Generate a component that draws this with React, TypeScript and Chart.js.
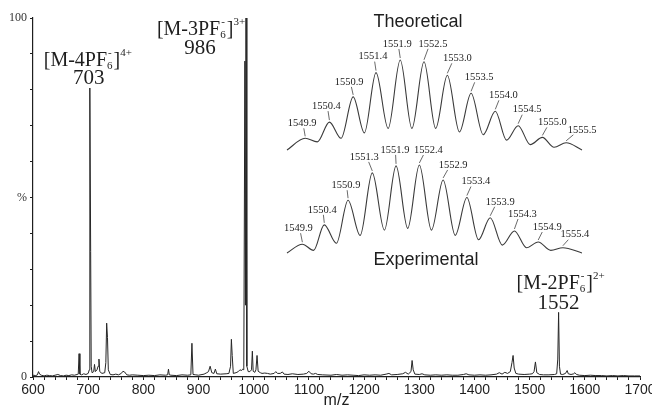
import React, { useEffect, useRef } from "react";
import { Chart, registerables } from "chart.js";
Chart.register(...registerables);

// ---------- Main ESI-MS spectrum ----------
const specMz = [
  600, 605, 608, 610, 612, 615, 620, 625, 630, 635, 640, 645, 650, 655, 660, 665, 670, 675, 680, 682,
  683.5, 685, 688, 692, 696, 700, 702, 703, 704.5, 705.5, 707, 710, 711.5, 713, 716, 718, 719.5, 721,
  725, 730, 732, 733.5, 735, 736.5, 740, 745, 750, 755, 760, 763, 766, 770, 775, 780, 790, 800, 810,
  820, 830, 840, 844, 845.5, 847, 850, 860, 870, 880, 886, 888, 890, 895, 900, 910, 915, 918, 921, 924,
  928, 930.5, 933, 940, 950, 955, 958, 959.5, 961, 963, 968, 972, 975, 978, 980, 982, 984, 985, 986,
  987.5, 990, 993, 996, 997.5, 999, 1002, 1004, 1006, 1008, 1012, 1015, 1020, 1025, 1030, 1037, 1040,
  1043, 1048, 1052, 1055, 1062, 1070, 1080, 1090, 1096, 1100, 1104, 1108, 1112, 1116, 1125, 1140, 1150,
  1160, 1170, 1180, 1190, 1200, 1210, 1220, 1230, 1240, 1245, 1250, 1260, 1270, 1275, 1280, 1285, 1287,
  1289, 1292, 1300, 1305, 1310, 1320, 1330, 1340, 1350, 1360, 1370, 1380, 1385, 1390, 1400, 1410, 1420,
  1430, 1440, 1445, 1450, 1455, 1460, 1465, 1468, 1470, 1472, 1475, 1480, 1490, 1500, 1505, 1508, 1510.5,
  1513, 1518, 1525, 1535, 1545, 1549, 1551, 1552.5, 1554, 1556, 1560, 1565, 1568, 1570, 1575, 1580, 1582,
  1585, 1590, 1600, 1610, 1620, 1630, 1640, 1650, 1660, 1670, 1680, 1690, 1700,
];
const specInt = [
  0.5, 0.4, 0.6, 1.5, 0.8, 0.5, 0.3, 0.5, 0.4, 0.3, 0.5, 0.7, 0.4, 0.3, 0.5, 0.4, 0.6, 0.5, 0.7, 0.8,
  6.5, 0.8, 0.6, 0.9, 0.7, 1.0, 2.0, 80.5, 35, 3, 1.2, 1.5, 3.5, 1.5, 2.0, 3.0, 5.0, 1.5,
  1.0, 1.2, 4.0, 15, 11, 2.0, 0.7, 0.6, 0.8, 0.6, 1.0, 1.6, 1.4, 0.6, 0.5, 0.6, 0.5, 0.4, 0.5,
  0.4, 0.6, 0.5, 0.6, 2.2, 0.6, 0.5, 0.4, 0.6, 0.5, 0.6, 9.4, 0.7, 0.6, 0.5, 0.8, 1.2, 1.5, 3.0, 1.2,
  1.0, 2.2, 0.9, 0.8, 0.9, 1.0, 3.0, 10.5, 6.0, 1.0, 1.2, 1.5, 2.0, 1.8, 2.2, 2.0, 88, 20, 100,
  3.0, 1.5, 1.5, 2.0, 7.2, 1.6, 1.3, 2.0, 6.0, 1.6, 1.2, 1.0, 1.1, 1.0, 0.8, 1.0, 1.5,
  1.0, 1.0, 1.4, 0.8, 0.7, 0.9, 0.7, 0.8, 1.0, 1.6, 0.9, 0.8, 1.0, 0.7, 0.6, 0.5, 0.7,
  0.5, 0.6, 0.5, 0.4, 0.6, 0.5, 0.6, 0.5, 0.8, 1.0, 0.6, 0.7, 0.9, 1.3, 0.8, 1.5, 4.6,
  2.0, 0.8, 0.7, 0.9, 0.6, 0.5, 0.6, 0.5, 0.6, 0.5, 0.5, 0.7, 0.9, 0.6, 0.5, 0.6, 0.5,
  0.6, 0.8, 1.2, 0.8, 1.3, 1.0, 1.5, 4.0, 6.0, 2.5, 1.0, 0.8, 0.7, 0.8, 0.9, 1.5, 4.2,
  1.2, 0.7, 0.6, 0.6, 0.7, 0.9, 5.0, 18, 3.0, 0.8, 0.7, 1.0, 1.8, 0.9, 0.7, 0.9, 1.2,
  0.7, 0.5, 0.4, 0.5, 0.4, 0.4, 0.3, 0.4, 0.3, 0.4, 0.3, 0.3, 0.3,
];

const xTickLabels = ["600", "700", "800", "900", "1000", "1100", "1200", "1300", "1400", "1500", "1600", "1700"];
const yTickValues = [0, 10, 20, 30, 40, 50, 60, 70, 80, 90, 100];
const yTickLabels = ["0", "", "", "", "", "%", "", "", "", "", "100"];

// Ion annotations
const ionMz = [703, 986, 1552.5];
const ionInt = [80.5, 100, 18];
const ionLost = ["4", "3", "2"];
const ionCharge = ["4+", "3+", "2+"];
const ionMass = ["703", "986", "1552"];
// layout offsets (px) from the peak top: [numberDx, numberBaseDy, formulaDx, formulaBaseDy]
const ionLayout = [
  [-1, -4, -2, -22],
  [-46, 36, -45, 17],
  [0, -3, 2, -23],
];

// ---------- Isotope pattern insets ----------
const theoLabels = ["1549.9", "1550.4", "1550.9", "1551.4", "1551.9", "1552.5", "1553.0", "1553.5", "1554.0", "1554.5", "1555.0", "1555.5"];
const theoPeakX = [1549.9, 1550.42, 1550.93, 1551.42, 1551.94, 1552.45, 1552.95, 1553.46, 1553.98, 1554.47, 1554.99, 1555.5];
const theoPeakY = [13, 31, 59, 86, 100, 98, 83, 63, 43, 27, 14, 8];
const theoValleyX = [1549.51, 1550.16, 1550.67, 1551.17, 1551.68, 1552.19, 1552.7, 1553.21, 1553.72, 1554.22, 1554.73, 1555.24, 1555.84];
const theoValleyY = [0, 9, 13, 19, 24, 24, 24, 20, 17, 11, 6, 3, 0];
const theoLabelLayout = [[-3, -15], [-3, -16], [-4, -15], [-3, -16], [-3, -16], [9, -18], [10, -17], [8, -16], [8, -16], [9, -16], [10, -15], [16, -13]];

const expLabels = ["1549.9", "1550.4", "1550.9", "1551.3", "1551.9", "1552.4", "1552.9", "1553.4", "1553.9", "1554.3", "1554.9", "1555.4"];
const expPeakX = [1549.84, 1550.31, 1550.82, 1551.34, 1551.85, 1552.35, 1552.86, 1553.37, 1553.87, 1554.39, 1554.9, 1555.43];
const expPeakY = [10, 32, 60, 91, 99, 100, 83, 63, 40, 25, 12.5, 6];
const expValleyX = [1549.51, 1550.08, 1550.57, 1551.08, 1551.6, 1552.1, 1552.61, 1553.12, 1553.62, 1554.13, 1554.65, 1555.17, 1555.84];
const expValleyY = [0, 3, 11, 20, 26, 28, 26, 20, 15, 9, 6, 3, 0];
const expLabelLayout = [[-4, -16], [-2, -15], [-2, -15], [-8, -16], [-1, -16], [9, -15], [10, -15], [9, -16], [10, -16], [8, -17], [9, -15], [12, -13]];

const SERIF = '"Liberation Serif", "Times New Roman", serif';
const SANS = '"Liberation Sans", Arial, sans-serif';
const INK = "#1e1e1e";

function drawIon(ctx: CanvasRenderingContext2D, cx: number, base: number, lost: string, charge: string) {
  const big = `20px ${SERIF}`;
  const small = `11px ${SERIF}`;
  const head = `[M-${lost}PF`;
  ctx.font = big;
  const wHead = ctx.measureText(head).width;
  const wBr = ctx.measureText("]").width;
  ctx.font = small;
  const wSix = ctx.measureText("6").width;
  const wCh = ctx.measureText(charge).width;
  const total = wHead + wSix + 1 + wBr + wCh;
  let x = cx - total / 2;
  ctx.textAlign = "left";
  ctx.textBaseline = "alphabetic";
  ctx.font = big;
  ctx.fillText(head, x, base);
  x += wHead;
  ctx.font = small;
  ctx.fillText("6", x, base + 3);
  ctx.fillText("-", x + 1, base - 10);
  x += wSix + 1;
  ctx.font = big;
  ctx.fillText("]", x, base);
  x += wBr;
  ctx.font = small;
  ctx.fillText(charge, x, base - 10);
}

const ionPlugin = {
  id: "ionLabels",
  afterDatasetsDraw(chart: any) {
    const { ctx, scales } = chart;
    ctx.save();
    ctx.fillStyle = INK;
    ionMz.forEach((mz, i) => {
      const px = scales.x.getPixelForValue(mz);
      const py = scales.y.getPixelForValue(ionInt[i]);
      const [ndx, ndy, fdx, fdy] = ionLayout[i];
      ctx.font = `21px ${SERIF}`;
      ctx.textAlign = "center";
      ctx.textBaseline = "alphabetic";
      ctx.fillText(ionMass[i], px + ndx, py + ndy);
      drawIon(ctx, px + fdx, py + fdy, ionLost[i], ionCharge[i]);
    });
    ctx.restore();
  },
};

function makeInsetPlugin(labels: string[], xs: number[], ys: number[], layout: number[][], title: string, tx: number, ty: number) {
  return {
    id: "insetLabels",
    afterDatasetsDraw(chart: any) {
      const { ctx, scales } = chart;
      ctx.save();
      ctx.fillStyle = INK;
      ctx.strokeStyle = "#444";
      ctx.lineWidth = 0.8;
      ctx.font = `10.5px ${SERIF}`;
      ctx.textAlign = "center";
      ctx.textBaseline = "middle";
      labels.forEach((t, i) => {
        const px = scales.x.getPixelForValue(xs[i]);
        const py = scales.y.getPixelForValue(ys[i]);
        const [dx, dy] = layout[i];
        const lx = px + dx;
        const ly = py + dy;
        ctx.fillText(t, lx, ly);
        ctx.beginPath();
        ctx.moveTo(px + dx * 0.45, ly + 5);
        ctx.lineTo(px, py - 2);
        ctx.stroke();
      });
      ctx.font = `18px ${SANS}`;
      ctx.textBaseline = "alphabetic";
      ctx.fillText(title, tx, ty);
      ctx.restore();
    },
  };
}

function mergeCurve(px: number[], py: number[], vx: number[], vy: number[]) {
  const pts: { x: number; y: number }[] = [];
  vx.forEach((x, i) => pts.push({ x, y: vy[i] }));
  px.forEach((x, i) => pts.push({ x, y: py[i] }));
  pts.sort((a, b) => a.x - b.x);
  return pts;
}

function insetConfig(points: any[], plugin: any, pad: any) {
  return {
    type: "line" as const,
    data: {
      datasets: [
        {
          data: points,
          borderColor: "#3a3a3a",
          borderWidth: 1.1,
          pointRadius: 0,
          cubicInterpolationMode: "monotone" as const,
          clip: false as const,
        },
      ],
    },
    options: {
      animation: false as const,
      responsive: false,
      events: [],
      layout: { padding: pad },
      plugins: { legend: { display: false }, tooltip: { enabled: false } },
      scales: {
        x: { type: "linear" as const, display: false, min: 1549.51, max: 1555.84 },
        y: { display: false, min: 0, max: 100 },
      },
    },
    plugins: [plugin],
  };
}

export default function App() {
  const mainRef = useRef<HTMLCanvasElement>(null);
  const theoRef = useRef<HTMLCanvasElement>(null);
  const expRef = useRef<HTMLCanvasElement>(null);

  useEffect(() => {
    const main = new Chart(mainRef.current!, {
      type: "line",
      data: {
        datasets: [
          {
            data: specMz.map((m, i) => ({ x: m, y: specInt[i] })),
            borderColor: "#262626",
            borderWidth: 1,
            pointRadius: 0,
            tension: 0,
            clip: false,
          },
        ],
      },
      options: {
        animation: false,
        responsive: false,
        events: [],
        layout: { padding: { top: 18, right: 12, left: 0, bottom: 0 } },
        plugins: { legend: { display: false }, tooltip: { enabled: false } },
        scales: {
          x: {
            type: "linear",
            min: 600,
            max: 1700,
            afterBuildTicks: (s: any) => {
              const t: any[] = [];
              for (let v = 600; v <= 1700; v += 20) t.push({ value: v });
              s.ticks = t;
            },
            ticks: {
              autoSkip: false,
              maxRotation: 0,
              padding: 2,
              color: INK,
              font: { family: SANS, size: 14 },
              callback: (v: any) => {
                const lbl = String(v);
                return xTickLabels.includes(lbl) ? lbl : "";
              },
            },
            grid: { drawOnChartArea: false, tickLength: 3, color: INK },
            border: { color: INK, width: 1.2 },
            title: { display: true, text: "m/z", color: INK, font: { family: SANS, size: 16 }, padding: { top: 0, bottom: 0 } },
            afterFit: (s: any) => {
              s.height = 33;
              s.paddingRight = 8;
            },
          },
          y: {
            min: 0,
            max: 100,
            afterBuildTicks: (s: any) => {
              s.ticks = yTickValues.map((v) => ({ value: v }));
            },
            ticks: {
              autoSkip: false,
              padding: 3,
              color: "#333",
              font: { family: SERIF, size: 12 },
              callback: (v: any) => {
                const i = yTickValues.indexOf(Number(v));
                return i >= 0 ? yTickLabels[i] : "";
              },
            },
            grid: { drawOnChartArea: false, tickLength: 3, color: INK },
            border: { color: INK, width: 1.2 },
            afterFit: (s: any) => {
              s.width = 33;
            },
          },
        },
      },
      plugins: [ionPlugin],
    } as any);

    const theo = new Chart(
      theoRef.current!,
      insetConfig(
        mergeCurve(theoPeakX, theoPeakY, theoValleyX, theoValleyY),
        makeInsetPlugin(theoLabels, theoPeakX, theoPeakY, theoLabelLayout, "Theoretical", 148, 27),
        { left: 17, right: 18, top: 60, bottom: 10 }
      ) as any
    );
    const exp = new Chart(
      expRef.current!,
      insetConfig(
        mergeCurve(expPeakX, expPeakY, expValleyX, expValleyY),
        makeInsetPlugin(expLabels, expPeakX, expPeakY, expLabelLayout, "Experimental", 156, 125),
        { left: 17, right: 18, top: 25, bottom: 17 }
      ) as any
    );
    return () => {
      main.destroy();
      theo.destroy();
      exp.destroy();
    };
  }, []);

  return (
    <div style={{ position: "absolute", left: 0, top: 0, width: 652, height: 410, background: "#fff" }}>
      <canvas ref={mainRef} width={652} height={410} style={{ position: "absolute", left: 0, top: 0 }} />
      <canvas ref={theoRef} width={330} height={160} style={{ position: "absolute", left: 270, top: 0 }} />
      <canvas ref={expRef} width={330} height={130} style={{ position: "absolute", left: 270, top: 140 }} />
    </div>
  );
}
